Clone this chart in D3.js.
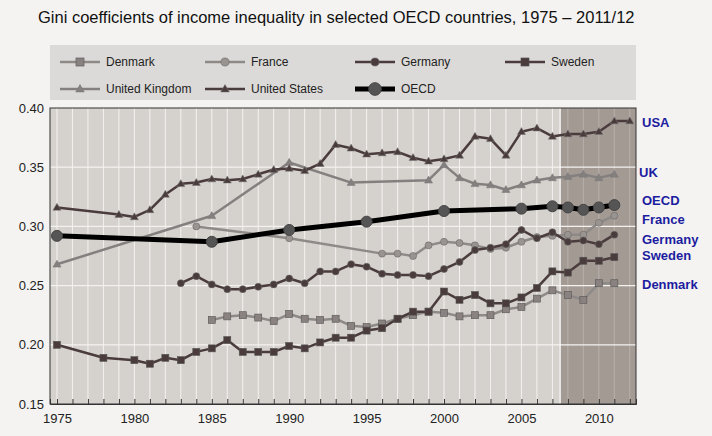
<!DOCTYPE html>
<html>
<head>
<script src="https://cdn.jsdelivr.net/npm/d3@7"></script>
<style>
body{margin:0;background:#f4f3f1;font-family:"Liberation Sans",Arial,sans-serif;}
</style>
</head>
<body>
<div id="container"></div>
<script>
var years75 = d3.range(1975, 2013);
var usYears = [1975,1979,1980,1981,1982,1983,1984,1985,1986,1987,1988,1989,1990,1991,1992,1993,1994,1995,1996,1997,1998,1999,2000,2001,2002,2003,2004,2005,2006,2007,2008,2009,2010,2011,2012];
var usVals = [0.316,0.310,0.308,0.314,0.327,0.336,0.337,0.340,0.339,0.340,0.344,0.348,0.349,0.347,0.353,0.369,0.366,0.361,0.362,0.363,0.358,0.355,0.357,0.360,0.376,0.374,0.360,0.380,0.383,0.376,0.378,0.378,0.380,0.389,0.389];
var ukYears = [1975,1985,1990,1994,1999,2000,2001,2002,2003,2004,2005,2006,2007,2008,2009,2010,2011];
var ukVals = [0.268,0.309,0.354,0.337,0.339,0.352,0.341,0.336,0.335,0.331,0.335,0.339,0.341,0.342,0.344,0.341,0.344];
var oecdYears = [1975,1985,1990,1995,2000,2005,2007,2008,2009,2010,2011];
var oecdVals = [0.292,0.287,0.297,0.304,0.313,0.315,0.317,0.316,0.314,0.316,0.318];
var frYears = [1984,1990,1996,1997,1998,1999,2000,2001,2002,2003,2004,2005,2006,2007,2008,2009,2010,2011];
var frVals = [0.300,0.290,0.277,0.277,0.275,0.284,0.287,0.286,0.284,0.281,0.282,0.287,0.291,0.292,0.293,0.293,0.303,0.309];
var deYears = d3.range(1983, 2012);
var deVals = [0.252,0.258,0.251,0.247,0.247,0.249,0.251,0.256,0.252,0.262,0.262,0.268,0.266,0.260,0.259,0.259,0.258,0.264,0.270,0.280,0.282,0.285,0.297,0.290,0.295,0.287,0.288,0.285,0.293];
var seYears = [1975,1978,1980].concat(d3.range(1981, 2012));
var seVals = [0.200,0.189,0.187,0.184,0.189,0.187,0.194,0.197,0.204,0.194,0.194,0.194,0.199,0.197,0.202,0.206,0.206,0.212,0.214,0.222,0.228,0.228,0.245,0.238,0.242,0.235,0.235,0.240,0.248,0.262,0.261,0.271,0.271,0.274];
var dkYears = d3.range(1985, 2012);
var dkVals = [0.221,0.224,0.225,0.223,0.220,0.226,0.222,0.221,0.222,0.216,0.215,0.218,0.222,0.225,0.228,0.227,0.224,0.225,0.225,0.230,0.232,0.239,0.246,0.242,0.238,0.252,0.252];
var yTicks = [0.15,0.20,0.25,0.30,0.35,0.40];
var xTickLabels = [1975,1980,1985,1990,1995,2000,2005,2010];

var series = [
  {name:"Denmark", years:dkYears, vals:dkVals, color:"#8e8a88", fill:"#8a8280", mark:"square", w:2.5},
  {name:"France", years:frYears, vals:frVals, color:"#8e8a88", fill:"#9a9490", mark:"circle", w:2.5},
  {name:"Germany", years:deYears, vals:deVals, color:"#4a3c3c", fill:"#4a3c3c", mark:"circle", w:2.5},
  {name:"Sweden", years:seYears, vals:seVals, color:"#4a3c3c", fill:"#4a3c3c", mark:"square", w:2.5},
  {name:"United Kingdom", years:ukYears, vals:ukVals, color:"#858080", fill:"#858080", mark:"triangle", w:2.5},
  {name:"United States", years:usYears, vals:usVals, color:"#4a3c3c", fill:"#4a3c3c", mark:"triangle", w:2.5},
  {name:"OECD", years:oecdYears, vals:oecdVals, color:"#000", fill:"#555", mark:"big", w:5}
];
var rightLabels = ["USA","UK","OECD","France","Germany","Sweden","Denmark"];
var rightY = [122,172,200,219,239,255,284];

var W = 712, H = 436;
var svg = d3.select("#container").append("svg").attr("width", W).attr("height", H);
var x = d3.scaleLinear().domain([1974.55, 2012.4]).range([50, 636]);
var y = d3.scaleLinear().domain([0.15, 0.40]).range([404, 108]);

svg.append("text").attr("x", 38).attr("y", 23).attr("font-size", 16.5).attr("fill", "#111")
  .text("Gini coefficients of income inequality in selected OECD countries, 1975 \u2013 2011/12");

// legend
svg.append("rect").attr("x", 50).attr("y", 45).attr("width", 586).attr("height", 55).attr("fill", "#dcdad8");
var legPos = [[60,62],[205,62],[355,62],[505,62],[60,89],[205,89],[355,89]];
function drawMark(g, s, cx, cy, big){
  var k = big ? 1.15 : 1;
  if(s.mark == "square") g.append("rect").attr("x", cx-3.5*k).attr("y", cy-3.5*k).attr("width", 7*k).attr("height", 7*k).attr("fill", s.fill).attr("stroke", "#555").attr("stroke-width", 0.6);
  else if(s.mark == "circle") g.append("circle").attr("cx", cx).attr("cy", cy).attr("r", 3.5*k).attr("fill", s.fill).attr("stroke", "#666").attr("stroke-width", 0.6);
  else if(s.mark == "triangle") g.append("path").attr("d", d3.symbol(d3.symbolTriangle, 28*k)()).attr("transform", "translate(" + cx + "," + (cy+0.5) + ")").attr("fill", s.fill).attr("stroke", "#777").attr("stroke-width", 0.5);
  else g.append("circle").attr("cx", cx).attr("cy", cy).attr("r", 5.5*k).attr("fill", s.fill).attr("stroke", "#444");
}
series.forEach(function(s, i){
  var p = legPos[i];
  var g = svg.append("g");
  g.append("line").attr("x1", p[0]).attr("x2", p[0]+40).attr("y1", p[1]).attr("y2", p[1]).attr("stroke", s.color).attr("stroke-width", s.w);
  drawMark(g, s, p[0]+20, p[1], true);
  g.append("text").attr("x", p[0]+46).attr("y", p[1]+4).attr("font-size", 12).attr("fill", "#222").text(s.name);
});

// plot area
svg.append("rect").attr("x", x(1974.55)).attr("y", y(0.40)).attr("width", x(2012.4)-x(1974.55)).attr("height", y(0.15)-y(0.40)).attr("fill", "#d5d1cd");
svg.append("rect").attr("x", x(2007.5)).attr("y", y(0.40)).attr("width", x(2012.4)-x(2007.5)).attr("height", y(0.15)-y(0.40)).attr("fill", "#a39a94");
svg.selectAll(".vg").data(years75).enter().append("line")
  .attr("x1", function(d){return x(d);}).attr("x2", function(d){return x(d);})
  .attr("y1", y(0.40)).attr("y2", y(0.15))
  .attr("stroke", function(d){return d > 2007.5 ? "#b8b0aa" : "#f4f2f0";}).attr("stroke-width", 1);
svg.selectAll(".hg").data(yTicks.slice(1,5)).enter().append("line")
  .attr("x1", x(1974.55)).attr("x2", x(2012.4))
  .attr("y1", function(d){return y(d);}).attr("y2", function(d){return y(d);})
  .attr("stroke", "#f4f2f0").attr("stroke-width", 1.2);
svg.append("line").attr("x1", x(2007.5)).attr("x2", x(2007.5)).attr("y1", y(0.40)).attr("y2", y(0.15)).attr("stroke", "#fff").attr("stroke-width", 1.2);
svg.append("rect").attr("x", x(1974.55)).attr("y", y(0.40)).attr("width", x(2012.4)-x(1974.55)).attr("height", y(0.15)-y(0.40)).attr("fill", "none").attr("stroke", "#333").attr("stroke-width", 1);

// axes
var yAxis = d3.axisLeft(y).tickValues(yTicks).tickFormat(d3.format(".2f")).tickSize(0).tickPadding(6);
var ga = svg.append("g").attr("transform", "translate(" + x(1974.55) + ",0)").call(yAxis);
ga.select(".domain").remove();
ga.selectAll("text").attr("font-size", 13).attr("fill", "#222").attr("font-family", "Liberation Sans Narrow, Liberation Sans, sans-serif");
var xAxis = d3.axisBottom(x).tickValues(years75).tickSize(-5).tickFormat(function(d){return xTickLabels.indexOf(d) >= 0 ? d : "";}).tickPadding(10);
var gx = svg.append("g").attr("transform", "translate(0," + y(0.15) + ")").call(xAxis);
gx.select(".domain").attr("stroke", "#333");
gx.selectAll("line").attr("stroke", "#333");
gx.selectAll("text").attr("font-size", 13).attr("fill", "#222").attr("font-family", "Liberation Sans Narrow, Liberation Sans, sans-serif");

// lines
var line = d3.line().x(function(d){return x(d[0]);}).y(function(d){return y(d[1]);});
series.forEach(function(s){
  var pts = d3.zip(s.years, s.vals);
  var g = svg.append("g");
  g.append("path").datum(pts).attr("d", line).attr("fill", "none").attr("stroke", s.color).attr("stroke-width", s.w).attr("stroke-linejoin", "round");
  pts.forEach(function(p){ drawMark(g, s, x(p[0]), y(p[1]), false); });
});

// right labels
svg.selectAll(".rl").data(rightLabels).enter().append("text")
  .attr("x", function(d, i){return i == 1 ? 639 : 642;}).attr("y", function(d, i){return rightY[i] + 5;})
  .attr("font-size", 13).attr("font-weight", "bold").attr("fill", "#1c1ca0").text(function(d){return d;});
</script>
</body>
</html>
